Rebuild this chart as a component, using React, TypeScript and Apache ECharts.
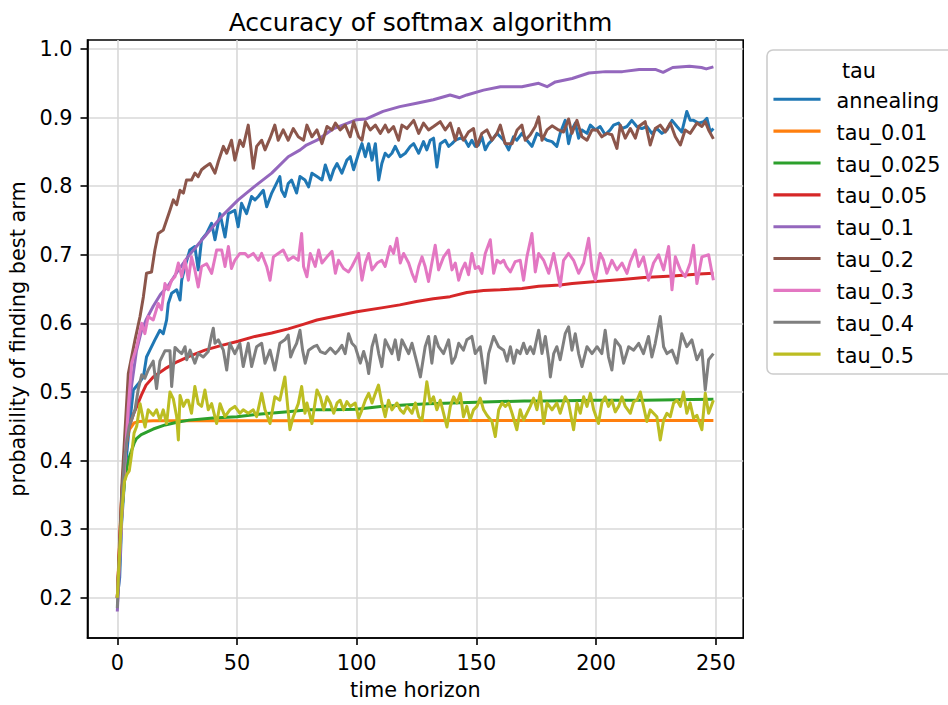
import React, { useEffect, useRef } from "react";
import * as echarts from "echarts";

const chartTitle = "Accuracy of softmax algorithm";
const xName = "time horizon";
const yName = "probability of finding best arm";
const legendTitle = "tau";
const seriesNames = ["annealing", "tau_0.01", "tau_0.025", "tau_0.05", "tau_0.1", "tau_0.2", "tau_0.3", "tau_0.4", "tau_0.5"];
const seriesColors = ["#1f77b4", "#ff7f0e", "#2ca02c", "#d62728", "#9467bd", "#8c564b", "#e377c2", "#7f7f7f", "#bcbd22"];
const xTicks = [0, 50, 100, 150, 200, 250];
const yTicks = [0.2, 0.3, 0.4, 0.5, 0.6, 0.7, 0.8, 0.9, 1.0];

const annealing = [[0,0.2],[1,0.23],[1.8,0.308],[3.2,0.381],[4.6,0.435],[6.7,0.503],[8.8,0.512],[10.9,0.522],[12.2,0.551],[13.6,0.561],[15.7,0.576],[17.8,0.59],[19.2,0.585],[20.6,0.605],[21.3,0.629],[22.7,0.644],[24.8,0.649],[26.2,0.634],[26.9,0.663],[28.3,0.683],[30.3,0.707],[32.4,0.712],[33.8,0.678],[35.2,0.722],[37.3,0.731],[39.4,0.746],[40.8,0.722],[42.9,0.76],[45,0.726],[46.4,0.76],[49.1,0.765],[50.5,0.741],[51.9,0.775],[54,0.76],[56.1,0.785],[57.5,0.78],[58.9,0.785],[61,0.794],[62.4,0.77],[64.5,0.79],[66.5,0.804],[67.9,0.814],[68.6,0.794],[70,0.785],[71.4,0.804],[72.8,0.809],[74.9,0.79],[76.3,0.814],[78.4,0.809],[79.9,0.799],[81.3,0.819],[83.4,0.814],[85.5,0.809],[86.9,0.831],[89,0.809],[90.4,0.824],[91.8,0.833],[93.8,0.819],[95.9,0.838],[97.3,0.843],[98.7,0.824],[100.8,0.848],[102.2,0.862],[103.6,0.843],[105,0.862],[106.4,0.838],[107.8,0.862],[109.2,0.809],[110.5,0.833],[111.9,0.848],[113.3,0.843],[114.7,0.848],[116.1,0.858],[118.2,0.843],[120.3,0.848],[122.4,0.858],[123.8,0.862],[125.9,0.848],[127.9,0.865],[129.3,0.853],[130.7,0.867],[132.1,0.87],[133.5,0.828],[134.9,0.862],[137,0.867],[138.4,0.858],[139.8,0.862],[141.2,0.867],[143.3,0.87],[145.3,0.867],[146.7,0.858],[148.1,0.867],[149.5,0.858],[150.9,0.86],[152.3,0.872],[153.7,0.853],[155.1,0.862],[156.5,0.867],[158.6,0.877],[160,0.872],[161.4,0.867],[163.5,0.853],[165.5,0.872],[166.9,0.867],[169,0.877],[171.1,0.867],[173.2,0.858],[175.3,0.877],[177.4,0.872],[179.5,0.867],[181.6,0.865],[183.6,0.858],[185,0.877],[187.1,0.896],[188.5,0.862],[189.9,0.882],[191.3,0.892],[192.7,0.87],[194.1,0.882],[196.2,0.877],[197.6,0.889],[199.7,0.882],[201.7,0.887],[203.8,0.875],[205.9,0.882],[207.3,0.889],[209.4,0.892],[210.8,0.884],[212.9,0.887],[214.9,0.896],[217,0.887],[219.1,0.884],[221.2,0.887],[223.3,0.877],[225.4,0.884],[227.5,0.877],[229.6,0.882],[231.7,0.896],[233.8,0.887],[235.8,0.879],[237.9,0.909],[239.3,0.896],[240.7,0.896],[242.8,0.892],[244.9,0.894],[246.3,0.899],[247.7,0.879],[249,0.884]];

const tau001 = [[0,0.2],[1,0.29],[2,0.36],[3,0.41],[4,0.43],[5,0.445],[6,0.45],[7,0.455],[9,0.457],[15,0.458],[249,0.4585]];

const tau0025 = [[0,0.2],[1,0.27],[2,0.33],[3,0.37],[4,0.39],[5,0.405],[6,0.415],[7,0.425],[8,0.432],[10,0.438],[15,0.446],[20,0.452],[25,0.456],[30,0.459],[40,0.462],[50,0.464],[60,0.468],[70,0.471],[80,0.474],[90,0.474],[100,0.475],[110,0.479],[120,0.481],[130,0.483],[140,0.484],[150,0.485],[160,0.486],[170,0.487],[180,0.487],[200,0.488],[220,0.488],[240,0.489],[249,0.4895]];

const tau005 = [[0,0.2],[1,0.28],[2,0.36],[3,0.4],[4,0.43],[5,0.45],[6,0.46],[7,0.47],[8,0.478],[10,0.495],[12,0.51],[15,0.522],[20,0.534],[25,0.544],[30,0.552],[36.6,0.561],[43.6,0.568],[50.5,0.574],[57.5,0.581],[64.5,0.586],[71.4,0.592],[78,0.599],[83.4,0.605],[90.4,0.61],[100,0.617],[111,0.623],[118,0.627],[125,0.632],[132,0.636],[139,0.639],[146,0.645],[153,0.648],[160,0.649],[169,0.651],[176,0.654],[185,0.656],[190,0.658],[200,0.661],[211,0.664],[220,0.667],[232,0.669],[243,0.672],[249,0.673]];

const tau01 = [[0,0.18],[1,0.25],[2,0.33],[3,0.39],[4,0.44],[5,0.48],[6,0.51],[8,0.56],[10,0.588],[12,0.605],[15,0.625],[18,0.642],[21.3,0.655],[25,0.675],[29.7,0.698],[36.6,0.727],[43.6,0.756],[50.5,0.78],[57.5,0.8],[64.5,0.819],[71.4,0.843],[76.4,0.853],[79,0.86],[83.4,0.867],[90.4,0.884],[100,0.897],[104,0.898],[111,0.909],[118,0.916],[125,0.921],[132,0.926],[139,0.933],[143,0.929],[146,0.933],[153,0.94],[160,0.945],[169,0.945],[176,0.95],[179.5,0.945],[183,0.952],[190,0.957],[197,0.965],[204,0.967],[211,0.967],[218,0.97],[225,0.97],[228,0.966],[232,0.973],[239,0.975],[244,0.973],[246,0.971],[249,0.974]];

const tau02 = [[0,0.2],[1,0.28],[2,0.37],[3,0.43],[4,0.49],[4.6,0.527],[7.4,0.576],[9.5,0.61],[10.9,0.639],[12.2,0.673],[14.3,0.675],[15.7,0.707],[17.1,0.731],[19.2,0.736],[22,0.765],[23.4,0.78],[24.8,0.773],[26.2,0.794],[27.6,0.79],[28.9,0.809],[31,0.809],[32.4,0.819],[33.8,0.814],[35.2,0.824],[36.6,0.828],[38.7,0.833],[40.8,0.819],[42.2,0.836],[44.3,0.858],[45.7,0.848],[47.7,0.867],[49.1,0.838],[51.2,0.867],[52.6,0.858],[54.7,0.889],[56.8,0.826],[58.2,0.858],[60.3,0.867],[61.7,0.853],[63.8,0.87],[65.8,0.889],[67.2,0.867],[69.3,0.882],[71.4,0.867],[73.5,0.884],[75.6,0.872],[77.8,0.867],[79.2,0.889],[81.3,0.872],[83.4,0.882],[85.5,0.862],[87.6,0.887],[89.7,0.882],[91.1,0.892],[93.1,0.882],[95.2,0.889],[97.3,0.872],[98.7,0.894],[100.8,0.872],[102.2,0.867],[103.6,0.894],[105.7,0.882],[107.8,0.889],[109.9,0.877],[111.9,0.889],[113.3,0.879],[115.4,0.887],[117.5,0.867],[118.9,0.889],[121,0.884],[123.8,0.896],[125.9,0.877],[127.9,0.892],[130,0.882],[132.1,0.887],[134.9,0.894],[137,0.882],[139.1,0.892],[141.2,0.867],[142.6,0.884],[144.6,0.867],[146.7,0.879],[148.8,0.884],[150.2,0.858],[152.3,0.877],[154.4,0.882],[156.5,0.867],[158.6,0.877],[160,0.889],[162,0.862],[164.9,0.862],[167,0.882],[169,0.889],[170.4,0.867],[172.5,0.875],[174.6,0.887],[176,0.901],[177.4,0.867],[179.5,0.882],[181.6,0.888],[184.3,0.882],[186.4,0.879],[188.5,0.898],[189.9,0.877],[192,0.896],[194.1,0.872],[196.2,0.867],[198.3,0.882],[200.4,0.882],[202.4,0.872],[204.5,0.877],[206.6,0.875],[208.7,0.855],[210.1,0.889],[212.2,0.87],[214.3,0.884],[216.4,0.87],[217.8,0.887],[220.5,0.894],[222.6,0.86],[224.7,0.884],[226.8,0.889],[228.9,0.879],[231,0.892],[233.1,0.872],[235.2,0.86],[237.2,0.882],[239.3,0.877],[242.1,0.892],[244.2,0.887],[245.6,0.894],[247,0.882],[249,0.869]];

const tau03 = [[0,0.2],[1,0.26],[2,0.33],[3,0.39],[4.6,0.479],[6,0.542],[8.1,0.566],[10.2,0.6],[11.5,0.585],[12.9,0.61],[15,0.605],[17.1,0.629],[18.5,0.62],[19.9,0.658],[21.3,0.649],[22.7,0.663],[24.1,0.668],[25.5,0.688],[26.9,0.668],[28.3,0.692],[29.7,0.663],[31,0.697],[32.4,0.678],[33.8,0.653],[35.2,0.683],[37.3,0.687],[39.4,0.673],[41.5,0.707],[43.6,0.707],[45,0.683],[46.4,0.712],[47.7,0.68],[49.1,0.692],[51.2,0.702],[53.3,0.702],[54.7,0.697],[56.8,0.702],[58.9,0.692],[60.3,0.702],[62.4,0.683],[63.8,0.663],[65.2,0.697],[67.2,0.702],[69.3,0.707],[71.4,0.692],[73.5,0.697],[75.6,0.692],[77,0.731],[77.8,0.683],[79.2,0.668],[80.6,0.702],[82.7,0.683],[84.1,0.707],[85.5,0.688],[87.6,0.697],[89.7,0.705],[91.1,0.673],[92.4,0.692],[94.5,0.68],[96.6,0.675],[98,0.683],[100.8,0.702],[102.2,0.663],[103.6,0.688],[105,0.702],[106.4,0.678],[108.5,0.688],[110.5,0.692],[111.9,0.683],[114,0.712],[115.4,0.702],[116.8,0.724],[118.2,0.688],[119.6,0.702],[121.7,0.688],[123.1,0.673],[124.5,0.661],[125.9,0.683],[127.3,0.697],[128.6,0.683],[130,0.661],[131.4,0.688],[132.8,0.714],[134.2,0.678],[136.3,0.697],[138.4,0.707],[139.8,0.678],[141.2,0.688],[142.6,0.663],[143.9,0.678],[145.3,0.688],[146.7,0.671],[148.1,0.702],[149.5,0.68],[150.9,0.683],[152.3,0.673],[153.7,0.702],[155.8,0.722],[157.2,0.673],[158.6,0.692],[160,0.688],[161.4,0.692],[162.5,0.683],[164.2,0.675],[166.2,0.69],[168.3,0.692],[169.7,0.663],[171.1,0.697],[173.2,0.731],[174.6,0.675],[176,0.702],[178.1,0.692],[180.2,0.673],[182.3,0.702],[185,0.654],[186.4,0.692],[188.5,0.702],[190.6,0.692],[192.7,0.673],[194.8,0.688],[196.9,0.724],[198.3,0.678],[199.7,0.663],[201.7,0.702],[203.1,0.692],[204.5,0.673],[206.6,0.692],[208.7,0.678],[210.8,0.688],[212.9,0.673],[214.3,0.69],[216.4,0.707],[217.8,0.683],[219.8,0.697],[221.9,0.663],[224,0.688],[226.1,0.7],[228.2,0.678],[230.3,0.712],[231.7,0.649],[233.1,0.697],[235.2,0.678],[237.2,0.668],[239.3,0.688],[240.7,0.714],[242.1,0.658],[244.2,0.697],[247,0.7],[249,0.663]];

const tau04 = [[0,0.185],[1,0.27],[2,0.35],[3,0.4],[4,0.43],[5,0.45],[6,0.46],[7.4,0.474],[8.8,0.505],[10.2,0.525],[11.5,0.52],[12.9,0.532],[15,0.545],[16.4,0.505],[17.8,0.545],[19.9,0.56],[22,0.56],[22.7,0.508],[24.1,0.565],[25.5,0.56],[26.9,0.556],[28.3,0.566],[29,0.547],[30.4,0.561],[32.4,0.542],[33.8,0.556],[35.9,0.551],[38,0.559],[39.4,0.583],[40.1,0.593],[40.8,0.571],[42.2,0.576],[44.3,0.561],[45.7,0.532],[47,0.571],[49.1,0.556],[51.2,0.571],[52.6,0.537],[54.7,0.571],[56.1,0.537],[58.2,0.566],[60.3,0.571],[61.7,0.542],[63.8,0.561],[65.8,0.532],[67.9,0.571],[70,0.576],[71.4,0.583],[72.4,0.551],[73.5,0.561],[74.9,0.571],[76.3,0.59],[77.4,0.561],[78.5,0.542],[79.9,0.561],[82,0.566],[83.4,0.568],[84.8,0.559],[86.9,0.556],[89,0.564],[91.1,0.556],[92.4,0.561],[93.8,0.568],[95.2,0.556],[96.6,0.585],[98,0.571],[99.4,0.566],[101.5,0.542],[102.9,0.559],[104.3,0.542],[105,0.527],[106.4,0.566],[107.8,0.583],[109.2,0.556],[110.5,0.537],[111.9,0.576],[113.3,0.566],[114.7,0.556],[116.1,0.576],[117.5,0.547],[118.9,0.576],[120.3,0.566],[121.7,0.556],[123.1,0.571],[125.2,0.542],[126.6,0.522],[128.6,0.566],[130,0.581],[131.4,0.542],[132.8,0.581],[134.2,0.566],[136.3,0.556],[138.4,0.576],[139.8,0.542],[141.2,0.551],[142.6,0.571],[144.6,0.561],[146,0.576],[148.1,0.581],[149.5,0.556],[151.6,0.566],[153.7,0.513],[155.1,0.556],[157.2,0.581],[159.3,0.566],[161.4,0.561],[162.8,0.545],[164.2,0.566],[165.6,0.542],[166.9,0.561],[168.3,0.556],[169.7,0.571],[171.1,0.556],[172.5,0.566],[173.9,0.556],[176,0.59],[177.4,0.556],[178.8,0.581],[180.2,0.547],[180.9,0.522],[182.3,0.556],[183.6,0.566],[185,0.547],[187.1,0.585],[188.5,0.595],[189.9,0.561],[191.3,0.585],[192.7,0.556],[194.1,0.537],[196.2,0.566],[198.3,0.556],[200.4,0.566],[202.4,0.556],[203.8,0.59],[205.2,0.551],[206.6,0.532],[208,0.576],[210.1,0.566],[211.5,0.542],[213.6,0.566],[215.7,0.561],[217.8,0.571],[219.8,0.556],[221.9,0.581],[223.3,0.551],[224.7,0.571],[226.8,0.61],[228.2,0.566],[229.6,0.556],[231.7,0.561],[233.8,0.542],[235.8,0.585],[237.9,0.566],[240,0.576],[242.1,0.547],[244.2,0.561],[245.6,0.503],[247,0.547],[249,0.556]];

const tau05 = [[0,0.2],[1,0.27],[2,0.33],[3,0.37],[4,0.38],[5,0.385],[6,0.41],[7,0.44],[8.1,0.45],[9.5,0.483],[10.9,0.459],[11.6,0.449],[12.9,0.474],[15,0.466],[16.4,0.474],[17.8,0.459],[19.2,0.474],[20.6,0.454],[22,0.5],[23.4,0.49],[24.8,0.464],[25.5,0.43],[26.2,0.495],[27.6,0.479],[28.9,0.488],[29.6,0.488],[31,0.469],[32.4,0.508],[33.8,0.483],[35.2,0.479],[36.6,0.503],[38,0.474],[39.4,0.483],[41.5,0.454],[42.9,0.483],[45,0.464],[47,0.474],[49.1,0.479],[51.2,0.469],[52.6,0.474],[54.7,0.469],[56.8,0.474],[58.2,0.464],[60.3,0.498],[61.7,0.474],[63.8,0.454],[65.8,0.493],[67.9,0.488],[70,0.522],[72.1,0.445],[73.5,0.464],[75.6,0.483],[77,0.508],[78.4,0.469],[79.2,0.484],[81.3,0.454],[83.4,0.503],[84.8,0.493],[86.2,0.474],[87.6,0.493],[89,0.484],[90.4,0.469],[91.8,0.484],[93.1,0.488],[94.5,0.474],[95.9,0.486],[97.3,0.479],[99.4,0.484],[100.8,0.462],[102.2,0.474],[103.6,0.488],[105,0.498],[106.4,0.484],[107.8,0.498],[109.1,0.51],[110.5,0.484],[111.9,0.464],[113.3,0.488],[114.7,0.474],[116.8,0.484],[118.2,0.474],[119.6,0.469],[121,0.479],[123.1,0.469],[124.5,0.484],[125.9,0.464],[127.3,0.459],[129.3,0.515],[130.7,0.484],[132.1,0.493],[133.5,0.474],[134.9,0.488],[136.3,0.469],[137.7,0.449],[139.1,0.479],[140.5,0.493],[141.9,0.484],[143.3,0.498],[144.6,0.464],[146,0.479],[147.4,0.459],[148.8,0.474],[150.2,0.479],[151.6,0.491],[153,0.474],[154.4,0.466],[156.5,0.457],[157.9,0.435],[159.3,0.474],[160.7,0.484],[162.1,0.479],[163.5,0.484],[164.9,0.469],[166.9,0.445],[168.3,0.474],[169.7,0.459],[171.1,0.469],[172.5,0.479],[173.9,0.491],[175.3,0.474],[176.7,0.5],[178.1,0.454],[179.5,0.484],[181.6,0.474],[183.6,0.484],[185,0.469],[187.1,0.493],[188.5,0.484],[190.6,0.445],[192,0.484],[193.4,0.469],[194.8,0.493],[196.2,0.479],[197.6,0.498],[199,0.474],[201,0.454],[202.4,0.484],[203.8,0.493],[205.2,0.479],[206.6,0.488],[208,0.471],[209.4,0.479],[210.8,0.493],[212.2,0.479],[214.3,0.469],[215.7,0.486],[217.1,0.488],[218.5,0.5],[219.8,0.479],[221.2,0.457],[222.6,0.474],[224,0.469],[225.4,0.464],[226.8,0.43],[228.2,0.459],[229.6,0.469],[231,0.464],[232.4,0.484],[233.8,0.488],[235.2,0.479],[236.5,0.5],[237.9,0.469],[239.3,0.484],[240.7,0.462],[242.1,0.466],[244.2,0.445],[245.6,0.498],[247,0.469],[249,0.488]];

const seriesValues = [annealing, tau001, tau0025, tau005, tau01, tau02, tau03, tau04, tau05];

export default function App() {
  const ref = useRef<HTMLDivElement>(null);
  useEffect(() => {
    document.body.style.margin = "0";
    const chart = echarts.init(ref.current as HTMLDivElement, null, { renderer: "svg" });
    const FONT = "DejaVu Sans";
    const FS = 20.8;
    const legendGraphics: any[] = [
      {
        type: "rect",
        shape: { x: 767, y: 50, width: 200, height: 324, r: 6 },
        style: { fill: "rgba(255,255,255,0.8)", stroke: "#cccccc", lineWidth: 1.6 },
        z: 10,
      },
      {
        type: "text",
        x: 859,
        y: 70.5,
        style: { text: legendTitle, font: `${FS}px "${FONT}"`, fill: "#000", textAlign: "center", textVerticalAlign: "middle" },
        z: 11,
      },
    ];
    seriesNames.forEach((name, i) => {
      const y = 99.3 + 31.85 * i;
      legendGraphics.push({
        type: "line",
        shape: { x1: 775, y1: y, x2: 819, y2: y },
        style: { stroke: seriesColors[i], lineWidth: 3.1, lineCap: "square" },
        z: 11,
      });
      legendGraphics.push({
        type: "text",
        x: 836.5,
        y: y + 1.5,
        style: { text: name, font: `${FS}px "${FONT}"`, fill: "#000", textAlign: "left", textVerticalAlign: "middle" },
        z: 11,
      });
    });

    const option: any = {
      animation: false,
      backgroundColor: "#ffffff",
      textStyle: { fontFamily: FONT },
      title: {
        text: chartTitle,
        left: 415.5,
        top: 5,
        textAlign: "center",
        textStyle: { fontFamily: FONT, fontSize: 25, fontWeight: "normal", color: "#000" },
      },
      grid: {
        left: 87.5,
        right: 204.8,
        top: 40,
        bottom: 67,
        show: true,
        borderColor: "#000",
        borderWidth: 1.6,
        backgroundColor: "transparent",
        outerBoundsMode: "none",
      },
      xAxis: {
        type: "value",
        min: -12.45,
        max: 261.45,
        splitNumber: 5,
        name: xName,
        nameLocation: "middle",
        nameGap: 41,
        nameTextStyle: { fontFamily: FONT, fontSize: FS, color: "#000" },
        axisLine: { show: true, onZero: false, lineStyle: { color: "#000", width: 1.6 } },
        axisTick: { show: true, length: 7, customValues: xTicks, lineStyle: { color: "#000", width: 1.6 } },
        axisLabel: { customValues: xTicks, margin: 14, fontFamily: FONT, fontSize: FS, color: "#000", formatter: (v: number) => String(Math.round(v)) },
        splitLine: { show: true, lineStyle: { color: "#d8d8d8", width: 1.6 } },
      },
      yAxis: {
        type: "value",
        min: 0.1414,
        max: 1.0131,
        splitNumber: 9,
        name: yName,
        nameLocation: "middle",
        nameGap: 58,
        nameTextStyle: { fontFamily: FONT, fontSize: FS, color: "#000" },
        axisLine: { show: true, onZero: false, lineStyle: { color: "#000", width: 1.6 } },
        axisTick: { show: true, length: 7, customValues: yTicks, lineStyle: { color: "#000", width: 1.6 } },
        axisLabel: { customValues: yTicks, margin: 15, fontFamily: FONT, fontSize: FS, color: "#000", formatter: (v: number) => v.toFixed(1) },
        splitLine: { show: true, lineStyle: { color: "#d8d8d8", width: 1.6 } },
      },
      series: seriesNames.map((name, i) => ({
        name,
        type: "line",
        data: seriesValues[i],
        showSymbol: false,
        symbol: "none",
        silent: true,
        clip: true,
        lineStyle: { color: seriesColors[i], width: 3, cap: "butt", join: "round" },
        itemStyle: { color: seriesColors[i] },
        emphasis: { disabled: true },
        z: 2,
      })),
      graphic: legendGraphics,
    };
    chart.setOption(option);
    return () => chart.dispose();
  }, []);
  return <div ref={ref} style={{ position: "absolute", left: 0, top: 0, width: 948, height: 705 }} />;
}
